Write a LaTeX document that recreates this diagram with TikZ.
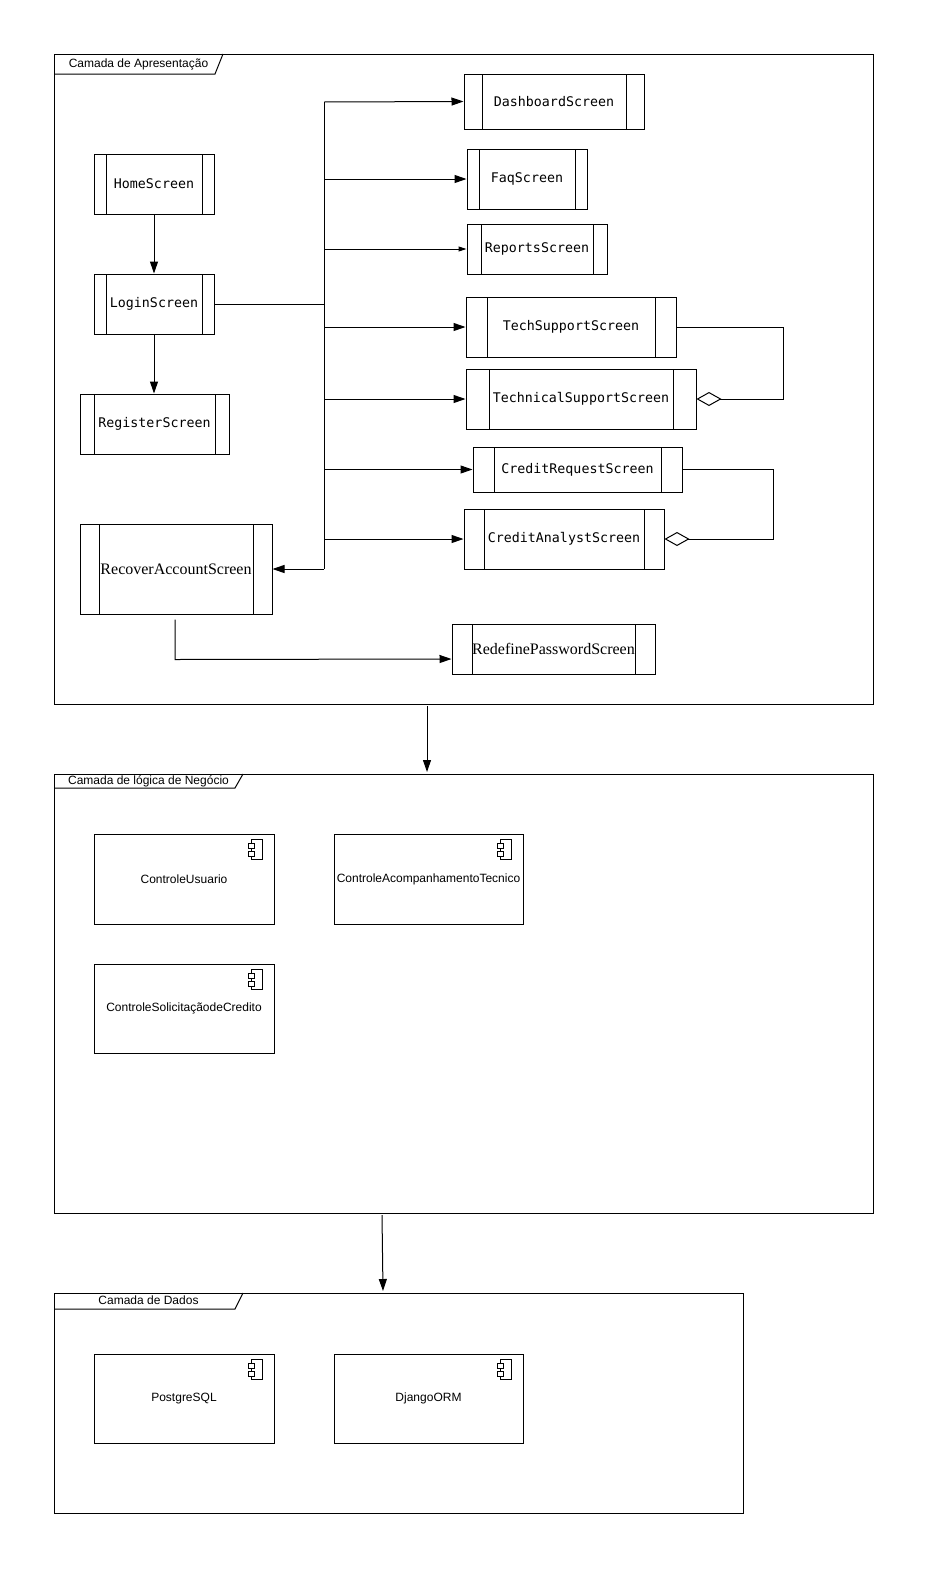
\documentclass[tikz,border=0pt]{standalone}
\usepackage{fontspec}
\usetikzlibrary{arrows.meta}
\newfontfamily\lblmono{DejaVu Sans Mono}
\newfontfamily\lblsans{Liberation Sans}
\newfontfamily\lblserif{Liberation Serif}

\begin{document}
\begin{tikzpicture}[x=1pt,y=-1pt,line width=1pt,
  arr/.style={-{Triangle[length=12pt,width=8pt]}},
  arrsm/.style={-{Triangle[length=8pt,width=5pt]}},
  agg/.style={-{Diamond[open,length=25pt,width=14pt]}},
  layer/.style={draw,inner sep=0pt,outer sep=0pt},
  tabtxt/.style={font=\lblsans\fontsize{12}{14}\selectfont,inner sep=0pt},
  screen/.style={draw,inner sep=0pt,font=\lblmono\fontsize{13.3}{16}\selectfont,
    path picture={
      \draw ([xshift=#1]path picture bounding box.north west) -- ([xshift=#1]path picture bounding box.south west);
      \draw ([xshift=-#1]path picture bounding box.north east) -- ([xshift=-#1]path picture bounding box.south east);}},
  oldscreen/.style={screen=#1,font=\lblserif\fontsize{16}{18}\selectfont},
  comp/.style={draw,inner sep=0pt,font=\lblsans\fontsize{12}{14}\selectfont,
    path picture={
      \draw ([shift={(-23pt,-5pt)}]path picture bounding box.north east) rectangle ([shift={(-12pt,-25pt)}]path picture bounding box.north east);
      \draw[fill=white] ([shift={(-26pt,-9pt)}]path picture bounding box.north east) rectangle ([shift={(-20pt,-14pt)}]path picture bounding box.north east);
      \draw[fill=white] ([shift={(-26pt,-17pt)}]path picture bounding box.north east) rectangle ([shift={(-20pt,-22pt)}]path picture bounding box.north east);}}]
\path[use as bounding box,fill=white] (0,0) rectangle (930,1569);

% layers
\node[layer,minimum width=819pt,minimum height=650pt] (pres) at (463.5,379) {};
\node[layer,minimum width=819pt,minimum height=439pt] (logic) at (463.5,993.5) {};
\node[layer,minimum width=689pt,minimum height=220pt] (data) at (398.5,1403) {};

\draw (pres.north west) ++(0,20) -- ++(161,0) -- ++(8,-20);
\node[tabtxt] (presLbl) at ([xshift=84.5pt,yshift=-10pt]pres.north west) {Camada de Apresentação};
\draw (logic.north west) ++(0,14) -- ++(181,0) -- ++(8,-14);
\node[tabtxt] (logicLbl) at ([xshift=94.5pt,yshift=-7pt]logic.north west) {Camada de lógica de Negócio};
\draw (data.north west) ++(0,16) -- ++(181,0) -- ++(8,-16);
\node[tabtxt] (dataLbl) at ([xshift=94.5pt,yshift=-7pt]data.north west) {Camada de Dados};

% screens
\node[screen=12pt,minimum width=120pt,minimum height=60pt] (home) at (154,184) {HomeScreen};
\node[screen=12pt,minimum width=120pt,minimum height=60pt] (login) at (154,304) {LoginScreen};
\node[screen=14pt,minimum width=149pt,minimum height=60pt] (register) at (154.5,424) {RegisterScreen};
\node[screen=18pt,minimum width=180pt,minimum height=55pt] (dash) at (554,101.5) {DashboardScreen};
\node[screen=12pt,minimum width=120pt,minimum height=60pt] (faq) at (527,179) {FaqScreen};
\node[screen=14pt,minimum width=140pt,minimum height=50pt] (reports) at (537,249) {ReportsScreen};
\node[screen=21pt,minimum width=210pt,minimum height=60pt] (tech) at (571,327) {TechSupportScreen};
\node[screen=23pt,minimum width=230pt,minimum height=60pt] (technical) at (581,399) {TechnicalSupportScreen};
\node[screen=21pt,minimum width=209pt,minimum height=45pt] (creq) at (577.5,469.5) {CreditRequestScreen};
\node[screen=20pt,minimum width=200pt,minimum height=60pt] (canal) at (564,539) {CreditAnalystScreen};
\node[oldscreen=19pt,minimum width=192pt,minimum height=90pt] (recover) at (176,569) {RecoverAccountScreen};
\node[oldscreen=20pt,minimum width=203pt,minimum height=50pt] (redefine) at (553.5,649) {RedefinePasswordScreen};

% navigation
\coordinate (trunk) at (324,304);
\coordinate (tTop) at (324,102);
\coordinate (tBot) at (324,569);
\draw[arr] (home) -- (login);
\draw[arr] (login) -- (login |- register.north);
\draw (login.east) -- (trunk);
\draw (tTop) -- (tBot);
\draw[arr] (tTop) -- (dash.west);
\draw[arr] (trunk |- faq.west) -- (faq.west);
\draw[arrsm] (trunk |- reports.west) -- (reports.west);
\draw[arr] (trunk |- tech.west) -- (tech.west);
\draw[arr] (trunk |- technical.west) -- (technical.west);
\draw[arr] (trunk |- creq.west) -- (creq.west);
\draw[arr] (trunk |- canal.west) -- (canal.west);
\draw[arr] (tBot) -- (recover.east);
\draw[arr] ([xshift=-1pt,yshift=-5pt]recover.south) -- ++(0,40) -- ([yshift=-10pt]redefine.west);

% aggregations
\coordinate (aggT) at (783,327);
\coordinate (aggC) at (773,469);
\draw[agg] (tech.east) -- (tech.east -| aggT) |- (technical.east);
\draw[agg] (creq.east) -- (creq.east -| aggC) |- (canal.east);

% components
\node[comp,minimum width=180pt,minimum height=90pt] (cUser) at (184,879) {ControleUsuario};
\node[comp,minimum width=189pt,minimum height=90pt] (cTec) at (428.5,879) {ControleAcompanhamentoTecnico};
\node[comp,minimum width=180pt,minimum height=89pt] (cCred) at (184,1008.5) {ControleSolicitaçãodeCredito};
\node[comp,minimum width=180pt,minimum height=89pt] (pg) at (184,1398.5) {PostgreSQL};
\node[comp,minimum width=189pt,minimum height=89pt] (orm) at (428.5,1398.5) {DjangoORM};

% layer links
\draw[arr] ([xshift=-36.5pt,yshift=-2pt]pres.south) -- ([xshift=-36.5pt,yshift=2pt]logic.north);
\draw[arr] ([xshift=-81.5pt,yshift=-2pt]logic.south) -- ([xshift=-15.5pt,yshift=2pt]data.north);
\end{tikzpicture}
\end{document}
